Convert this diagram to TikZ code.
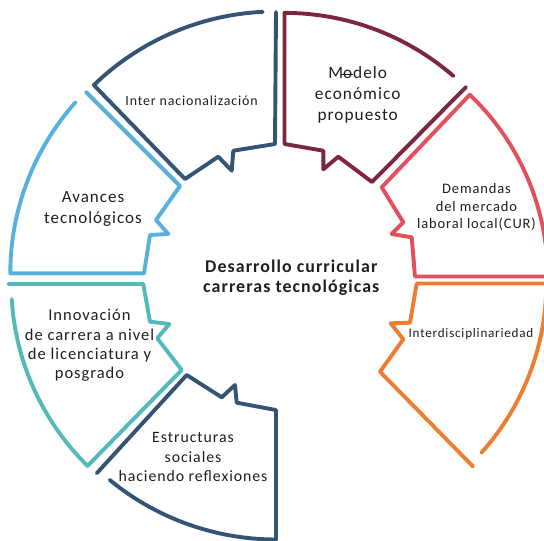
\documentclass[tikz,border=0pt]{standalone}
\usepackage{fontspec}
\setmainfont{Carlito}[LetterSpace=6]
\usetikzlibrary{calc}
\definecolor{cInter}{RGB}{52,84,117}
\definecolor{cModelo}{RGB}{125,38,66}
\definecolor{cDem}{RGB}{226,80,92}
\definecolor{cOrange}{RGB}{237,125,49}
\definecolor{cTeal}{RGB}{84,185,186}
\definecolor{cLight}{RGB}{88,176,219}
\begin{document}
\begin{tikzpicture}[x=1pt,y=-1pt,
  seg/.style={line width=3.9pt,line cap=round,line join=round},
  lbl/.style={align=center,text=black!88,inner sep=0pt}]
\useasboundingbox (0,0) rectangle (544,541);
\clip (0,0) rectangle (544,541);
% apexes
\coordinate (A1) at (275.5,272.5);
\coordinate (A2) at (284.5,270.4);
\coordinate (A3) at (296.7,276.5);
\coordinate (A4) at (293.3,283.5);
\coordinate (A5) at (276,277.5);
\coordinate (A6) at (266.3,284);
\coordinate (A7) at (267.3,273.3);
% Inter nacionalizacion
\draw[seg,cInter] ($(A1)+(267.2:261)$) arc[start angle=267.2,end angle=225.9,radius=261]
  -- (185,179) -- (218.3,156.7) -- (231.7,170.7) -- (233.3,150.7) -- (275,144) -- (276,12);
% Modelo
\draw[seg,cModelo] (466,87) -- (372,182) -- (338.3,156.7) -- (323.3,169.3) -- (323.3,150.7)
  -- (284.5,144) -- ($(A2)+(270:257.5)$) arc[start angle=270,end angle=311,radius=257.5];
% Demandas
\draw[seg,cDem] ($(A3)+(0:251)$) -- (415,276.5) -- (411.7,237.3) -- (391.7,234) -- (403.3,222.3)
  -- (381.7,187.3) -- ($(A3)+(313.6:251)$) arc[start angle=313.6,end angle=360,radius=251];
% Interdisciplinariedad
\draw[seg,cOrange] ($(A4)+(0:253)$) -- (416.7,283.5) -- (410,322.7) -- (390.7,323.3) -- (403.3,339.3)
  -- (380,371.7) -- (473,466.5);
\draw[seg,cOrange] ($(A4)+(42:253)$) arc[start angle=42,end angle=0,radius=253];
% Estructuras
\draw[seg,cInter] (96.7,473.3) -- (186.7,375) -- (221.7,397.3) -- (235,385) -- (236.7,402.7)
  -- (276,410) -- ($(A5)+(90:262)$) arc[start angle=90,end angle=129.4,radius=262];
% Innovacion
\draw[seg,cTeal] ($(A6)+(176.6:255)$) arc[start angle=176.6,end angle=134.5,radius=255]
  -- (181.7,370) -- (157.3,338.3) -- (169.3,324) -- (150,321.7) -- (143.3,284) -- (8.3,284);
% Avances
\draw[seg,cLight] (86,92) -- (180,186) -- (156,220) -- (168.3,234) -- (150,235) -- (144,273.3)
  -- ($(A7)+(180:257)$) arc[start angle=180,end angle=221.7,radius=257];
% labels
\node[lbl,font=\fontsize{13.9}{16}\selectfont] (tInter) at (191.6,101) {Inter nacionalización};
\node[lbl,font=\fontsize{17.3}{20.7}\selectfont] (tModelo) at (357.7,95)
  {M\makebox[0pt][l]{\hspace{-0.12em}\rule[0.22em]{0.68em}{0.07em}}odelo\\económico\\propuesto};
\node[lbl,font=\fontsize{17}{21}\selectfont] (tAvances) at (93,209) {Avances\\tecnológicos};
\node[lbl,font=\fontsize{14.5}{17.5}\selectfont] (tDem) at (476.5,207) {Demandas\\del mercado\\laboral local(CUR)};
\node[lbl,font=\fontsize{13.1}{16}\selectfont] (tInterd) at (471,334) {Interdisciplinariedad};
\node[lbl,font=\fontsize{16.5}{19.3}\selectfont] (tInnov) at (89.5,345.5)
  {Innovación\\de carrera a nivel\\de licenciatura y\\posgrado};
\node[lbl,font=\fontsize{15.8}{19.5}\selectfont] (tEstr) at (193,457) {Estructuras\\sociales\\haciendo reflexiones};
\node[lbl,font=\bfseries\fontsize{17.9}{19.7}\selectfont] (tCenter) at (291.3,278)
  {Desarrollo curricular\\carreras tecnológicas};
\end{tikzpicture}
\end{document}
